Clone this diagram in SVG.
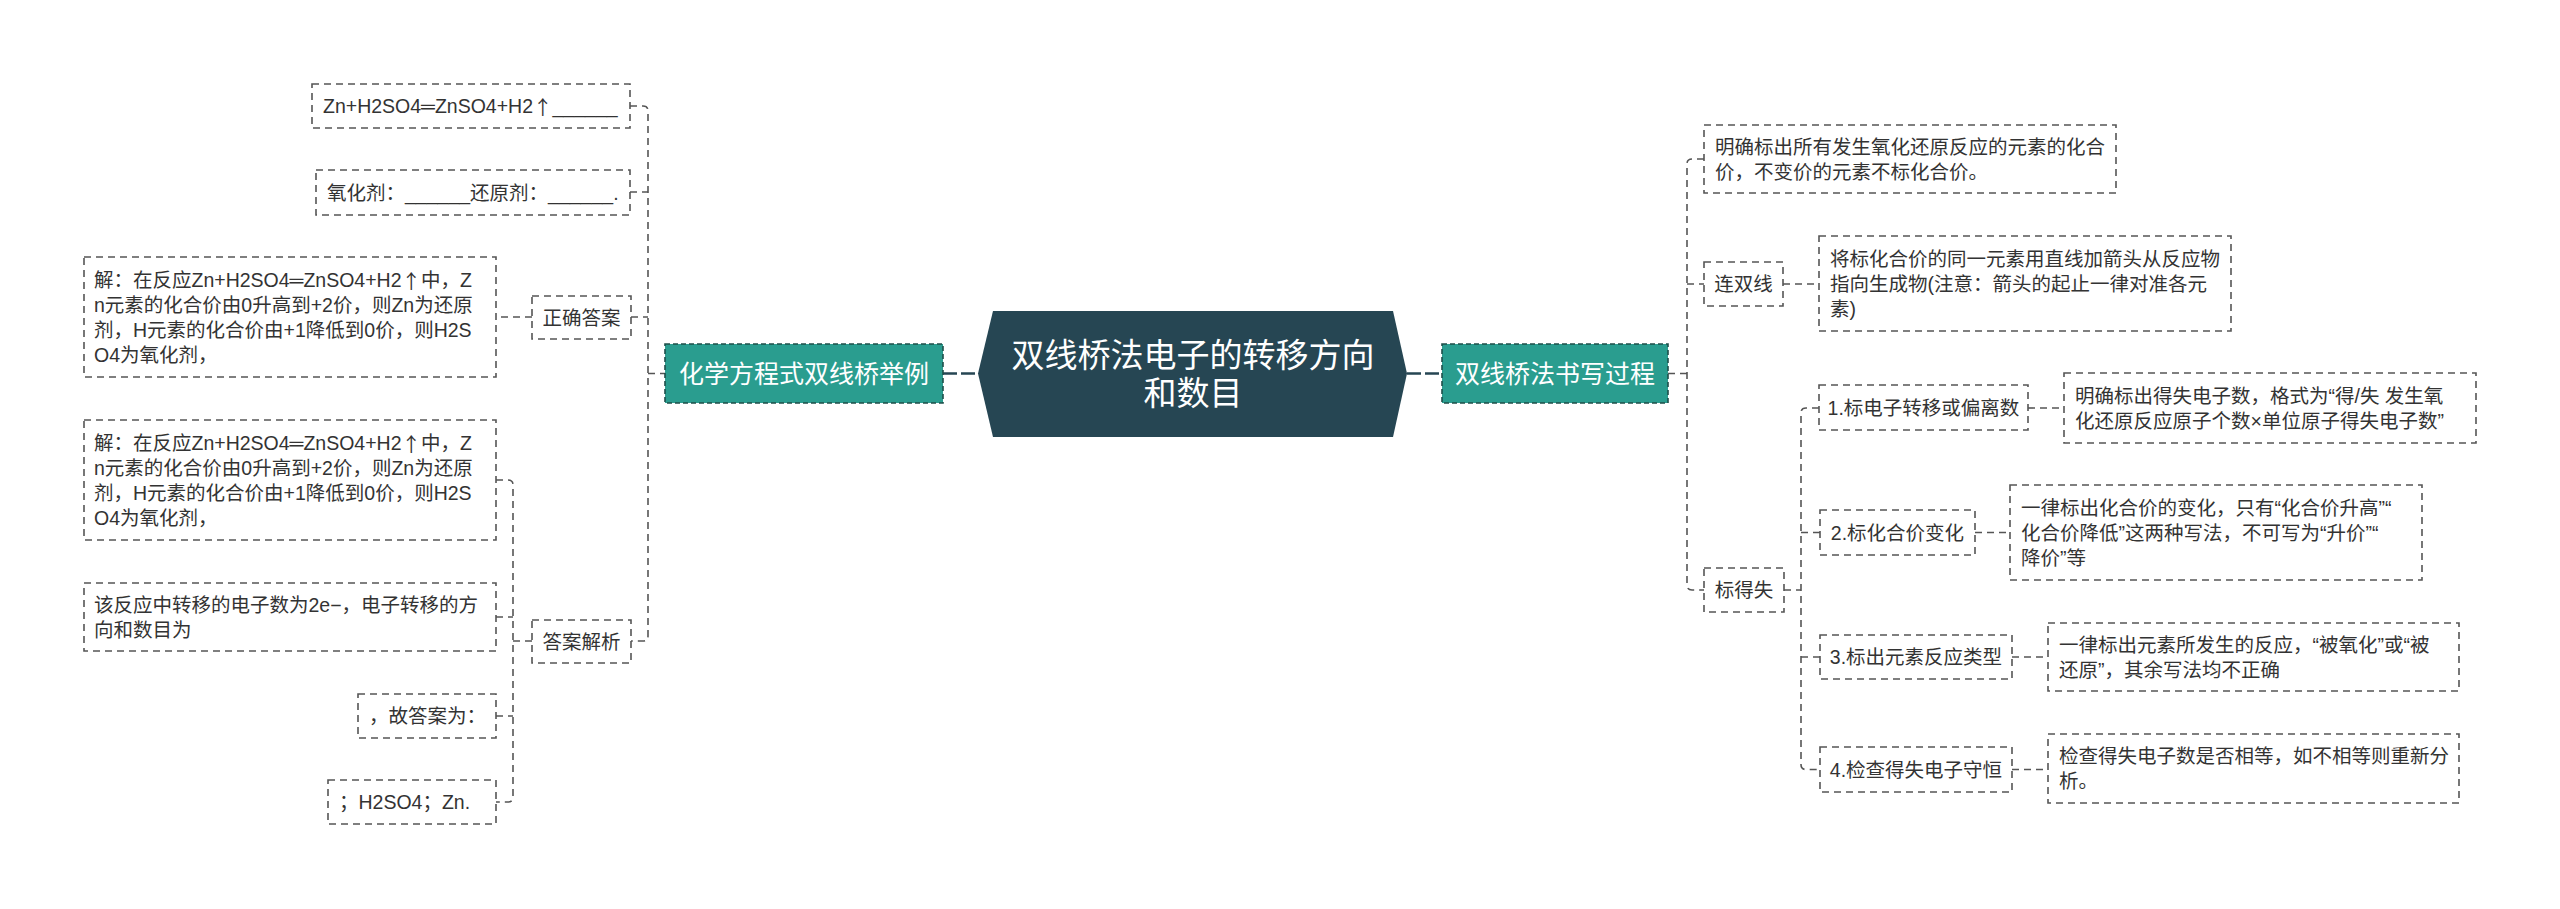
<svg xmlns="http://www.w3.org/2000/svg" width="2560" height="909" viewBox="0 0 2560 909">
<style>
text{font-family:"Liberation Sans","Noto Sans CJK SC",sans-serif;dominant-baseline:central;}
.cjk{font-family:"Noto Sans CJK SC",sans-serif;}
.box{fill:#fff;stroke:#555;stroke-width:1.6;stroke-dasharray:7 5;}
.t{font-size:19.5px;fill:#333;}
.tc{font-size:19.5px;fill:#333;text-anchor:middle;}
.topic{fill:#2a9d8f;stroke:#1e4f4a;stroke-width:1.6;stroke-dasharray:5 3;}
.tt{font-size:25px;fill:#fff;text-anchor:middle;}
.ct{font-size:33px;fill:#fff;text-anchor:middle;}
.ln{fill:none;stroke:#555;stroke-width:1.6;stroke-dasharray:7 5;}
.lm{fill:none;stroke:#264653;stroke-width:2.5;stroke-dasharray:14 4;}
</style>
<rect width="2560" height="909" fill="#fff"/>
<g id="connectors">
<path class="lm" d="M 943 373.5 H 979"/>
<path class="lm" d="M 1407 373.5 H 1442"/>
<path class="ln" d="M 630 106 H 643 Q 648 106 648 111 V 636 Q 648 641 643 641 H 631"/>
<path class="ln" d="M 630 192 H 648"/>
<path class="ln" d="M 631 317 H 648"/>
<path class="ln" d="M 648 373.5 H 665"/>
<path class="ln" d="M 532 317 H 496"/>
<path class="ln" d="M 496 480 H 508 Q 513 480 513 485 V 797 Q 513 802 508 802 H 496"/>
<path class="ln" d="M 496 617 H 513"/>
<path class="ln" d="M 496 716 H 513"/>
<path class="ln" d="M 513 641 H 532"/>
<path class="ln" d="M 1704 159 H 1692 Q 1687 159 1687 164 V 585 Q 1687 590 1692 590 H 1704"/>
<path class="ln" d="M 1687 284 H 1704"/>
<path class="ln" d="M 1668 373.5 H 1687"/>
<path class="ln" d="M 1783 284 H 1819"/>
<path class="ln" d="M 1819 408 H 1806 Q 1801 408 1801 413 V 764.5 Q 1801 769.5 1806 769.5 H 1820"/>
<path class="ln" d="M 1801 532.5 H 1820"/>
<path class="ln" d="M 1801 657 H 1820"/>
<path class="ln" d="M 1784 590 H 1801"/>
<path class="ln" d="M 2028 408 H 2064"/>
<path class="ln" d="M 1975 532.5 H 2010"/>
<path class="ln" d="M 2012 657 H 2048"/>
<path class="ln" d="M 2012 769.5 H 2048"/>
</g>
<g id="center">
<polygon points="993,311 1393,311 1407,373.5 1393,437 993,437 978,373.5" fill="#264653"/>
<text class="ct" x="1193" y="355">双线桥法电子的转移方向</text>
<text class="ct" x="1193" y="393">和数目</text>
</g>
<g id="topic-left">
<rect class="topic" x="665" y="344" width="278" height="59"/>
<text class="tt" x="804" y="373.5">化学方程式双线桥举例</text>
</g>
<g id="topic-right">
<rect class="topic" x="1442" y="344" width="226" height="59"/>
<text class="tt" x="1555" y="373.5">双线桥法书写过程</text>
</g>
<g id="n-zn">
<rect class="box" x="312" y="84" width="318" height="44"/>
<text class="t" x="323" y="106">Zn+H2SO4═ZnSO4+H2<tspan class="cjk">↑</tspan>______</text>
</g>
<g id="n-ox">
<rect class="box" x="316" y="170" width="314" height="45"/>
<text class="t" x="327" y="192.5">氧化剂：______还原剂：______.</text>
</g>
<g id="n-zqda">
<rect class="box" x="532" y="296" width="99" height="43"/>
<text class="tc" x="581.5" y="317.5">正确答案</text>
</g>
<g id="n-a1">
<rect class="box" x="84" y="257" width="412" height="120"/>
<text class="t" x="94" y="280">解：在反应Zn+H2SO4═ZnSO4+H2<tspan class="cjk">↑</tspan>中，Z</text>
<text class="t" x="94" y="305">n元素的化合价由0升高到+2价，则Zn为还原</text>
<text class="t" x="94" y="330">剂，H元素的化合价由+1降低到0价，则H2S</text>
<text class="t" x="94" y="355">O4为氧化剂，</text>
</g>
<g id="n-dajx">
<rect class="box" x="532" y="620" width="99" height="43"/>
<text class="tc" x="581.5" y="641.5">答案解析</text>
</g>
<g id="n-a2">
<rect class="box" x="84" y="420" width="412" height="120"/>
<text class="t" x="94" y="443">解：在反应Zn+H2SO4═ZnSO4+H2<tspan class="cjk">↑</tspan>中，Z</text>
<text class="t" x="94" y="468">n元素的化合价由0升高到+2价，则Zn为还原</text>
<text class="t" x="94" y="493">剂，H元素的化合价由+1降低到0价，则H2S</text>
<text class="t" x="94" y="518">O4为氧化剂，</text>
</g>
<g id="n-a3">
<rect class="box" x="84" y="583" width="412" height="68"/>
<text class="t" x="94" y="604.5">该反应中转移的电子数为2e−，电子转移的方</text>
<text class="t" x="94" y="629.5">向和数目为</text>
</g>
<g id="n-a4">
<rect class="box" x="358" y="694" width="138" height="44"/>
<text class="t" x="369" y="716">，故答案为：</text>
</g>
<g id="n-a5">
<rect class="box" x="328" y="780" width="168" height="44"/>
<text class="t" x="339" y="802">；H2SO4；Zn.</text>
</g>
<g id="n-r1">
<rect class="box" x="1704" y="125" width="412" height="68"/>
<text class="t" x="1715" y="146.5">明确标出所有发生氧化还原反应的元素的化合</text>
<text class="t" x="1715" y="171.5">价，不变价的元素不标化合价。</text>
</g>
<g id="n-lsx">
<rect class="box" x="1704" y="262" width="79" height="44"/>
<text class="tc" x="1743.5" y="284">连双线</text>
</g>
<g id="n-lsx-d">
<rect class="box" x="1819" y="236" width="412" height="95"/>
<text class="t" x="1830" y="258.5">将标化合价的同一元素用直线加箭头从反应物</text>
<text class="t" x="1830" y="283.5">指向生成物(注意：箭头的起止一律对准各元</text>
<text class="t" x="1830" y="308.5">素)</text>
</g>
<g id="n-bds">
<rect class="box" x="1704" y="568" width="80" height="44"/>
<text class="tc" x="1744" y="590">标得失</text>
</g>
<g id="n-s1">
<rect class="box" x="1819" y="385" width="209" height="45"/>
<text class="tc" x="1923.5" y="407.5">1.标电子转移或偏离数</text>
</g>
<g id="n-d1">
<rect class="box" x="2064" y="373" width="412" height="70"/>
<text class="t" x="2075" y="395.5">明确标出得失电子数，格式为“得/失 发生氧</text>
<text class="t" x="2075" y="420.5">化还原反应原子个数×单位原子得失电子数”</text>
</g>
<g id="n-s2">
<rect class="box" x="1820" y="510" width="155" height="45"/>
<text class="tc" x="1897.5" y="532.5">2.标化合价变化</text>
</g>
<g id="n-d2">
<rect class="box" x="2010" y="485" width="412" height="95"/>
<text class="t" x="2021" y="507.5">一律标出化合价的变化，只有“化合价升高”“</text>
<text class="t" x="2021" y="532.5">化合价降低”这两种写法，不可写为“升价”“</text>
<text class="t" x="2021" y="557.5">降价”等</text>
</g>
<g id="n-s3">
<rect class="box" x="1820" y="635" width="192" height="44"/>
<text class="tc" x="1916" y="657">3.标出元素反应类型</text>
</g>
<g id="n-d3">
<rect class="box" x="2048" y="623" width="411" height="68"/>
<text class="t" x="2059" y="644.5">一律标出元素所发生的反应，“被氧化”或“被</text>
<text class="t" x="2059" y="669.5">还原”，其余写法均不正确</text>
</g>
<g id="n-s4">
<rect class="box" x="1820" y="747" width="192" height="45"/>
<text class="tc" x="1916" y="769.5">4.检查得失电子守恒</text>
</g>
<g id="n-d4">
<rect class="box" x="2048" y="734" width="411" height="69"/>
<text class="t" x="2059" y="756">检查得失电子数是否相等，如不相等则重新分</text>
<text class="t" x="2059" y="781">析。</text>
</g>
</svg>
